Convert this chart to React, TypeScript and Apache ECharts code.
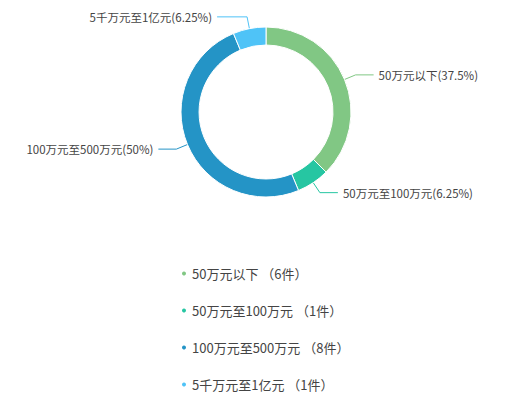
import { useEffect, useRef } from 'react';
import * as echarts from 'echarts';

const categories = ['50万元以下', '50万元至100万元', '100万元至500万元', '5千万元至1亿元'];
const counts = [6, 1, 8, 1];
const colors = ['#81c784', '#26c6a2', '#2494c6', '#4fc3f7'];

const App = () => {
    const chartRef = useRef<HTMLDivElement>(null);

    useEffect(() => {
        document.body.style.margin = '0';
        if (!chartRef.current) return;
        const chart = echarts.init(chartRef.current, null, { renderer: 'svg' });

        chart.setOption({
            animation: false,
            backgroundColor: '#fff',
            color: colors,
            textStyle: { fontFamily: '"Noto Sans CJK SC", "Noto Sans", sans-serif' },
            legend: {
                orient: 'vertical',
                left: 175,
                top: 261,
                height: 140,
                icon: 'circle',
                itemWidth: 6,
                itemHeight: 6,
                itemGap: 22,
                data: categories,
                textStyle: { color: '#444', fontSize: 13, lineHeight: 15 },
                formatter: (name: string) => {
                    const i = categories.indexOf(name);
                    return `${name} （${counts[i]}件）`;
                }
            },
            series: [
                {
                    type: 'pie',
                    center: [266, 112],
                    radius: [67, 85],
                    startAngle: 90,
                    itemStyle: { borderColor: '#fff', borderWidth: 1 },
                    label: {
                        formatter: '{b}({d}%)',
                        color: '#444',
                        fontSize: 11.5
                    },
                    labelLine: { length: 12, length2: 18, lineStyle: { width: 1 } },
                    data: categories.map((name, i) => ({
                        name,
                        value: counts[i],
                        labelLine: i === 3 ? { length: 12, length2: 30 } : undefined
                    }))
                }
            ]
        });

        return () => {
            chart.dispose();
        };
    }, []);

    return <div ref={chartRef} style={{ width: 520, height: 402 }} />;
};

export default App;
